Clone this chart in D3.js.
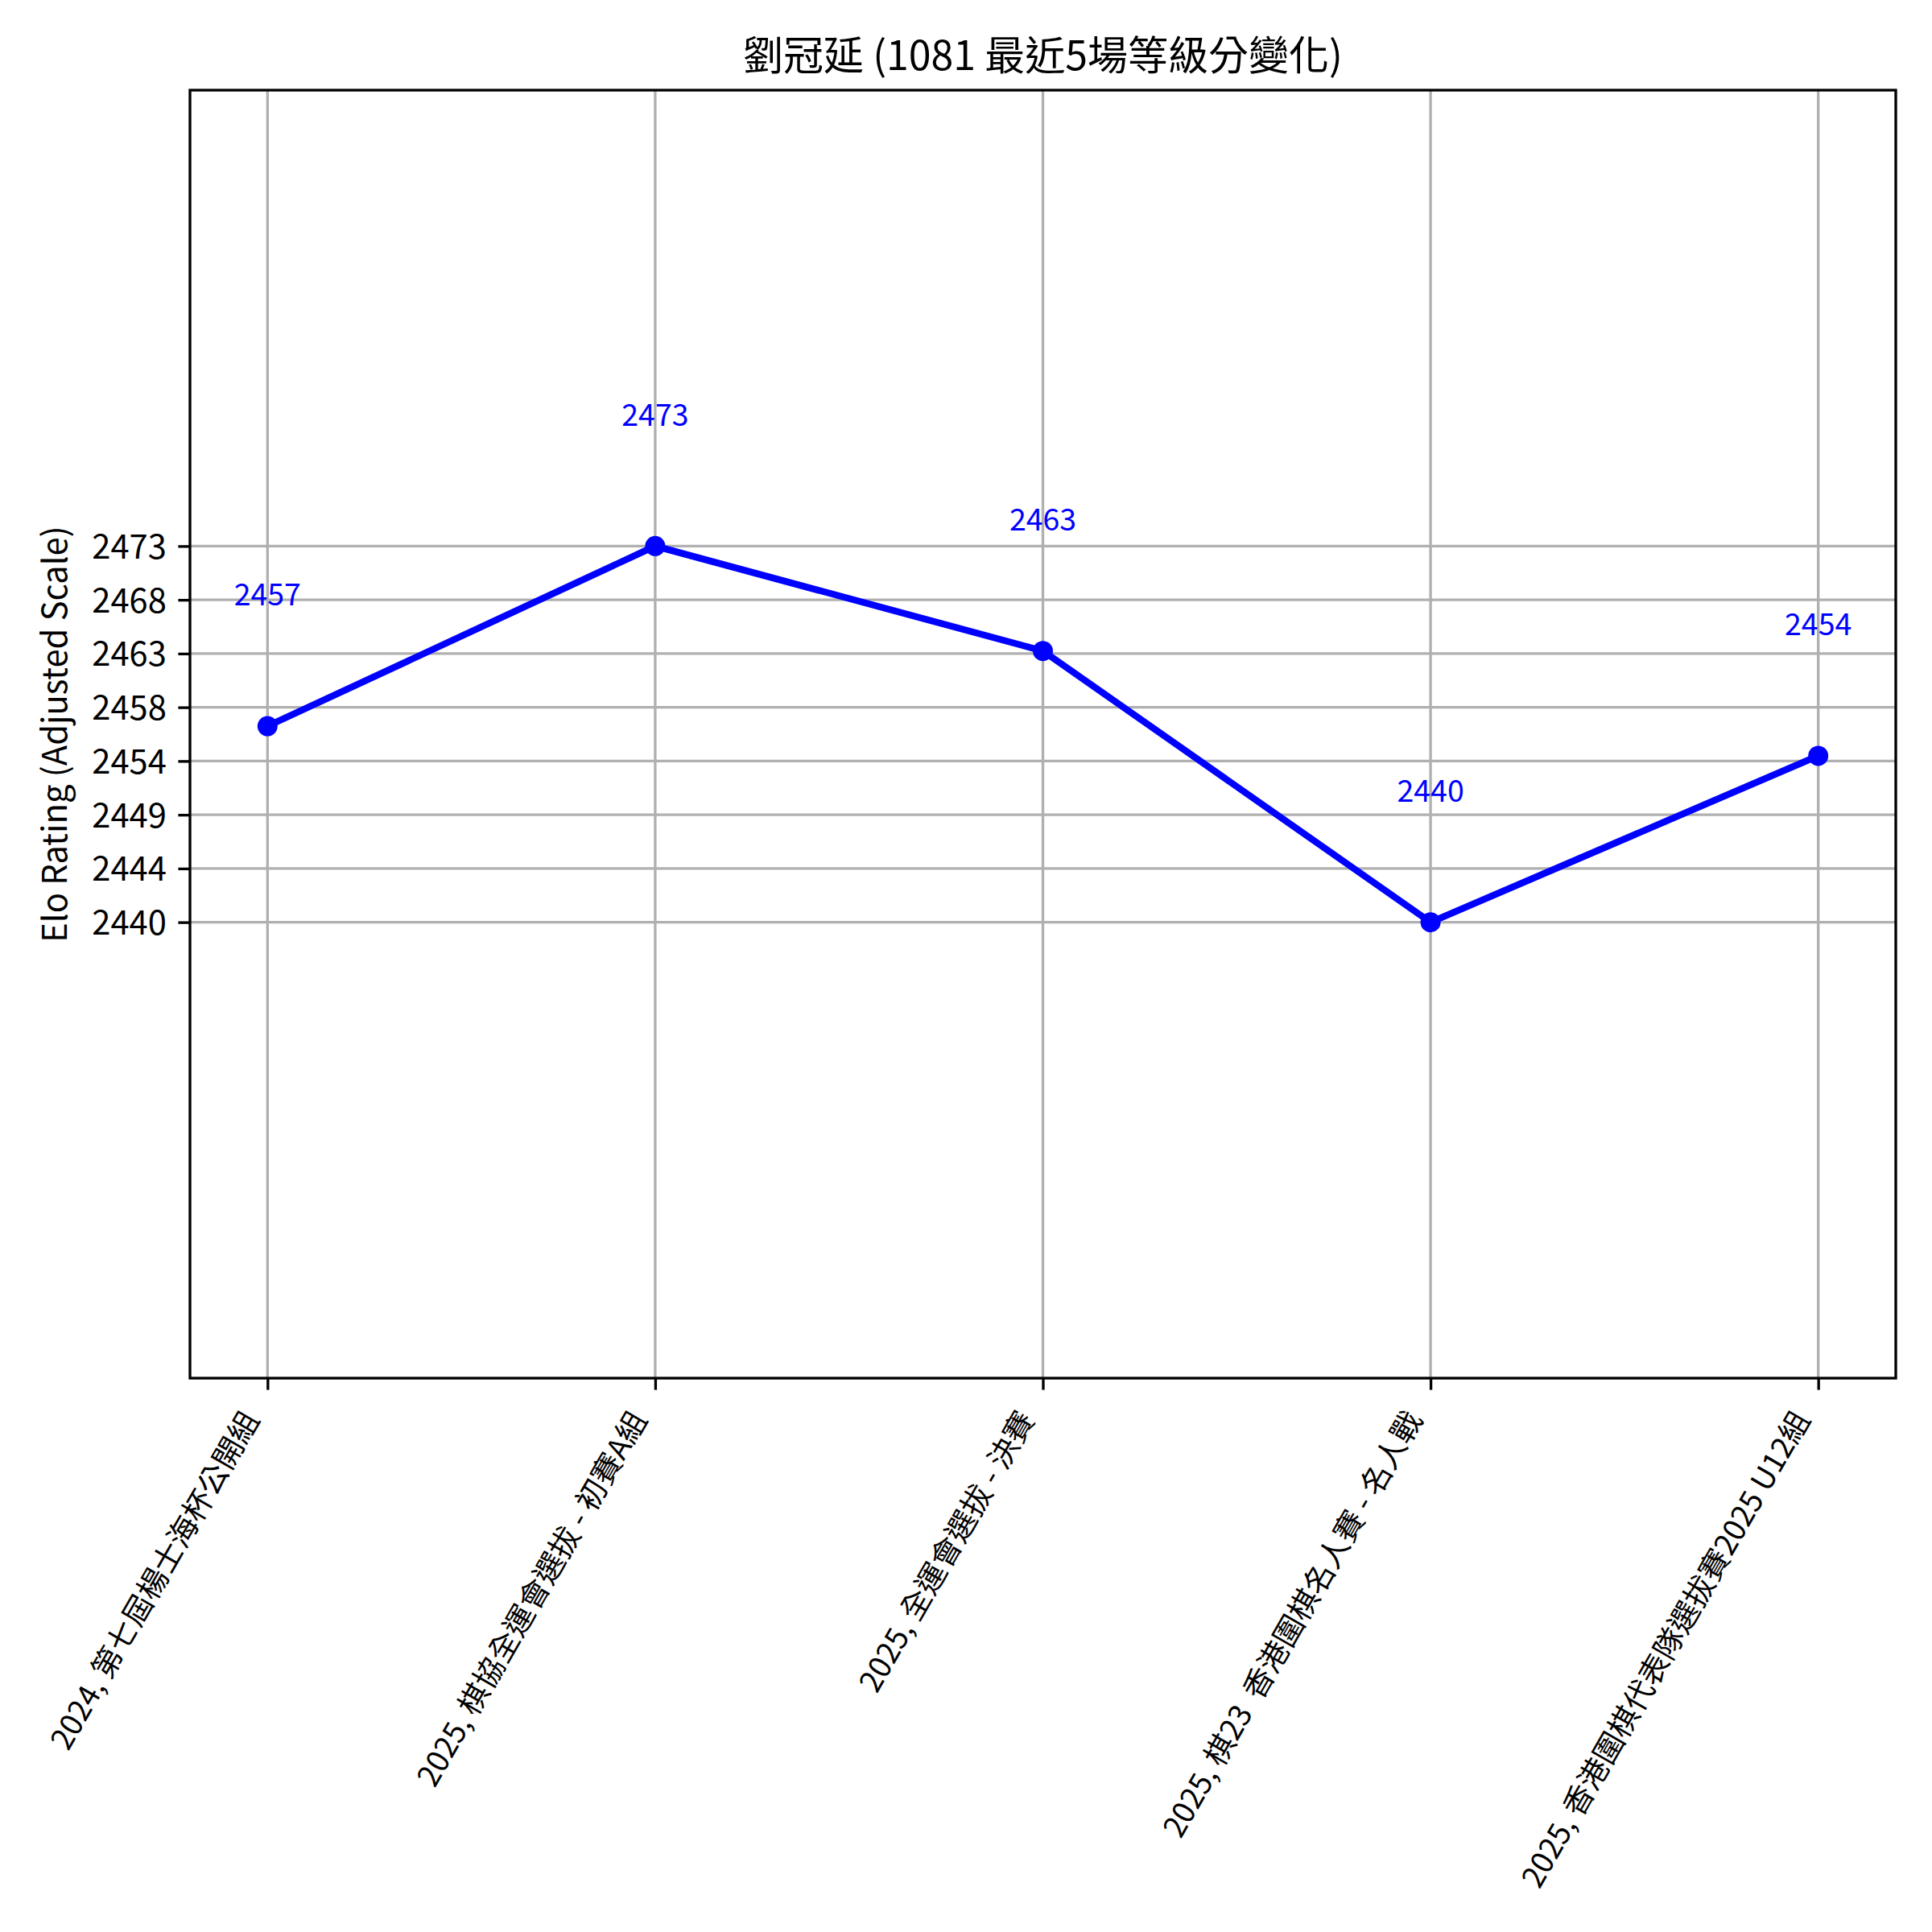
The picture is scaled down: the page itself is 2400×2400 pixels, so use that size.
<!DOCTYPE html>
<html>
<head>
<meta charset="utf-8">
<script src="https://cdn.jsdelivr.net/npm/d3@7"></script>
<style>
    body { margin: 0; background: #fff; }
    svg text { font-family: "Noto Sans CJK TC", "Noto Sans", sans-serif; }
</style>
</head>
<body>
<div id="chart"></div>
<script>
/*
 * Chart data.
 */
var title = '劉冠延 (1081 最近5場等級分變化)';
var yLabel = 'Elo Rating (Adjusted Scale)';
var categories = [
    '2024, 第七屆楊士海杯公開組',
    '2025, 棋協全運會選拔 - 初賽A組',
    '2025, 全運會選拔 - 決賽',
    '2025, 棋23\u00a0\u00a0香港圍棋名人賽 - 名人戰',
    '2025, 香港圍棋代表隊選拔賽2025 U12組'
];
var ratings = [2457.2, 2473.0, 2463.8, 2440.0, 2454.6];
var yTickCount = 8;

/*
 * Figure geometry (300 dpi, 1pt = 300/72 px).
 */
var pt = 300 / 72;
var width = 2400, height = 2400;
var margin = {top: 112, right: 45, bottom: 688, left: 236};
var innerWidth = width - margin.left - margin.right;
var innerHeight = height - margin.top - margin.bottom;

var svg = d3.select('#chart').append('svg')
    .attr('width', width)
    .attr('height', height);

svg.append('rect')
    .attr('width', width)
    .attr('height', height)
    .attr('fill', '#fff');

var g = svg.append('g')
    .attr('transform', 'translate(' + margin.left + ',' + margin.top + ')');

/*
 * Scales.
 */
var yMin = d3.min(ratings), yMax = d3.max(ratings);

var x = d3.scaleLinear()
    .domain([-0.2, categories.length - 1 + 0.2])
    .range([0, innerWidth]);

var y = d3.scaleLinear()
    .domain([yMin - 40, yMax + 40])
    .range([innerHeight, 0]);

var xTicks = d3.range(categories.length);
var yTicks = d3.range(yTickCount).map(function(i) {
    return yMin + (yMax - yMin) * i / (yTickCount - 1);
});

/*
 * Grid.
 */
var grid = g.append('g').attr('class', 'grid');

grid.selectAll('line.gx')
    .data(xTicks)
    .join('line')
    .attr('class', 'gx')
    .attr('x1', d => x(d)).attr('x2', d => x(d))
    .attr('y1', 0).attr('y2', innerHeight)
    .attr('stroke', '#b0b0b0')
    .attr('stroke-width', 0.8 * pt);

grid.selectAll('line.gy')
    .data(yTicks)
    .join('line')
    .attr('class', 'gy')
    .attr('x1', 0).attr('x2', innerWidth)
    .attr('y1', d => y(d)).attr('y2', d => y(d))
    .attr('stroke', '#b0b0b0')
    .attr('stroke-width', 0.8 * pt);

/*
 * Rating line and markers.
 */
var line = d3.line()
    .x((d, i) => x(i))
    .y(d => y(d));

g.append('path')
    .datum(ratings)
    .attr('d', line)
    .attr('fill', 'none')
    .attr('stroke', '#0000ff')
    .attr('stroke-width', 2 * pt)
    .attr('stroke-linejoin', 'round');

g.selectAll('circle.point')
    .data(ratings)
    .join('circle')
    .attr('class', 'point')
    .attr('cx', (d, i) => x(i))
    .attr('cy', d => y(d))
    .attr('r', 3 * pt)
    .attr('fill', '#0000ff');

/*
 * Value annotations.
 */
g.selectAll('text.value')
    .data(ratings)
    .join('text')
    .attr('class', 'value')
    .attr('x', (d, i) => x(i))
    .attr('y', d => y(d + 10) - 8)
    .attr('text-anchor', 'middle')
    .attr('fill', '#0000ff')
    .attr('font-size', 9 * pt)
    .text(d => Math.trunc(d));

/*
 * Axes.
 */
var tickLen = 3.5 * pt, tickPad = 3.5 * pt;

var yAxis = g.append('g')
    .call(d3.axisLeft(y)
        .tickValues(yTicks)
        .tickFormat(d => Math.trunc(d))
        .tickSize(tickLen)
        .tickPadding(tickPad));

var xAxis = g.append('g')
    .attr('transform', 'translate(0,' + innerHeight + ')')
    .call(d3.axisBottom(x)
        .tickValues(xTicks)
        .tickFormat(i => categories[i])
        .tickSize(tickLen)
        .tickPadding(tickPad));

[xAxis, yAxis].forEach(function(axis) {
    axis.select('.domain').remove();
    axis.selectAll('.tick line')
        .attr('stroke', '#000')
        .attr('stroke-width', 0.8 * pt);
    axis.selectAll('.tick text')
        .attr('fill', '#000')
        .attr('font-size', 10 * pt)
        .attr('font-family', '"Noto Sans CJK TC", "Noto Sans", sans-serif');
});

yAxis.selectAll('.tick text').attr('dy', '0.36em');

/*
 * Rotate x tick labels by 60 degrees, right/top aligned to the tick
 * the way matplotlib aligns a rotated bounding box.
 */
xAxis.selectAll('.tick text').each(function() {
    var text = d3.select(this)
        .attr('font-size', 9 * pt)
        .attr('text-anchor', 'end')
        .attr('x', 0)
        .attr('y', 0)
        .attr('dy', null);
    var box = this.getBBox();
    var a = -60 * Math.PI / 180, c = Math.cos(a), s = Math.sin(a);
    var corners = [
        [box.x, box.y], [box.x + box.width, box.y],
        [box.x, box.y + box.height], [box.x + box.width, box.y + box.height]
    ].map(p => [p[0] * c - p[1] * s, p[0] * s + p[1] * c]);
    var maxX = d3.max(corners, p => p[0]);
    var minY = d3.min(corners, p => p[1]);
    text.attr('transform',
        'translate(' + (-maxX) + ',' + (tickLen + tickPad - minY) + ') rotate(-60)');
});

/*
 * Frame.
 */
g.append('rect')
    .attr('width', innerWidth)
    .attr('height', innerHeight)
    .attr('fill', 'none')
    .attr('stroke', '#000')
    .attr('stroke-width', 0.8 * pt);

/*
 * Title and axis label.
 */
svg.append('text')
    .attr('x', margin.left + innerWidth / 2)
    .attr('y', margin.top - 6 * pt)
    .attr('text-anchor', 'middle')
    .attr('font-size', 12 * pt)
    .attr('fill', '#000')
    .text(title);

svg.append('text')
    .attr('transform', 'translate(83,' + (margin.top + innerHeight / 2) + ') rotate(-90)')
    .attr('text-anchor', 'middle')
    .attr('font-size', 10 * pt)
    .attr('fill', '#000')
    .text(yLabel);
</script>
</body>
</html>
